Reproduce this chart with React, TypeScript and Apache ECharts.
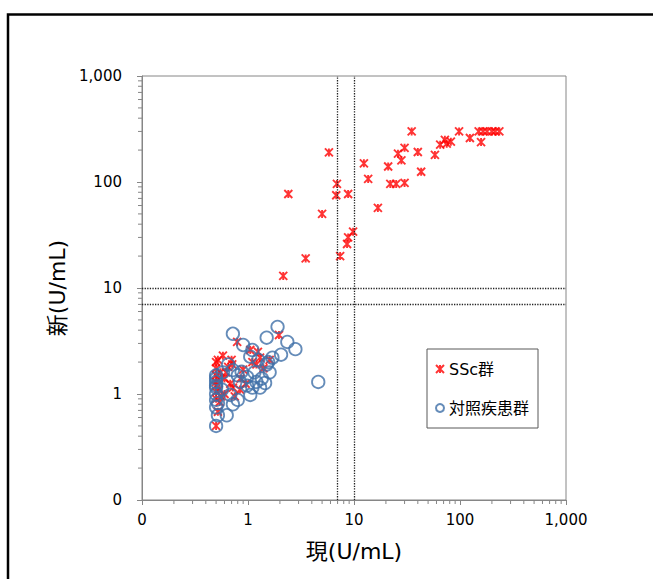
import React, { useEffect, useRef } from "react";
import * as echarts from "echarts";

const sscName = "SSc群";
const ctrlName = "対照疾患群";
const xTitle = "現(U/mL)";
const yTitle = "新(U/mL)";

const sscData: number[][] = [
  [5.8, 190], [12.4, 150], [13.6, 107], [6.9, 96], [2.4, 77], [6.8, 75], [8.8, 77],
  [16.8, 57], [5.0, 50], [9.8, 34], [8.8, 30], [8.6, 26], [7.4, 20], [3.5, 19], [2.15, 13],
  [35, 300], [98, 300], [72, 250], [82, 240], [65, 225], [75, 230], [124, 260], [158, 238],
  [150, 300], [165, 300], [180, 300], [200, 300], [215, 300], [235, 300],
  [30, 210], [26, 185], [28, 160], [40, 192], [58, 180], [21, 140], [43, 125],
  [22, 96], [25, 96], [30, 98],
  [1.96, 3.6], [0.79, 3.1], [0.58, 2.3], [1.24, 2.5], [1.05, 2.6], [0.71, 1.9], [0.5, 2.0],
  [0.52, 2.1], [1.4, 1.75], [1.6, 2.1], [0.72, 1.15], [0.52, 0.68], [0.5, 0.5], [0.54, 0.84],
  [0.5, 1.5], [0.5, 1.3], [0.5, 1.2], [0.5, 1.05], [0.55, 1.6], [0.6, 1.4], [0.65, 1.8],
  [0.85, 1.4], [0.9, 1.7], [1.1, 2.0], [1.2, 1.9], [0.75, 0.95], [0.84, 1.1], [0.6, 1.0],
  [0.5, 1.75], [0.52, 1.4], [0.62, 1.6], [0.68, 1.25], [0.56, 0.95], [0.5, 0.9], [0.53, 1.1],
  [0.7, 2.1], [0.95, 1.25], [1.3, 2.2],
];

const ctrlData: number[][] = [
  [0.72, 3.7], [1.9, 4.3], [1.5, 3.4], [2.35, 3.1], [2.8, 2.65], [2.05, 2.35], [0.9, 2.9],
  [1.1, 2.6], [1.05, 2.25], [1.25, 2.1], [1.55, 2.0], [1.7, 2.2], [1.5, 1.9], [1.6, 1.6],
  [1.45, 1.27], [1.3, 1.15], [1.1, 1.15], [0.98, 1.2], [1.05, 0.98], [0.84, 1.3], [0.8, 1.5],
  [0.72, 1.68], [0.87, 1.62], [0.98, 1.45], [0.8, 0.88], [0.72, 0.8], [0.63, 0.63],
  [0.52, 0.82], [0.52, 0.63], [0.5, 0.5], [0.5, 1.5], [0.5, 1.3], [0.5, 1.15], [0.5, 1.0],
  [0.5, 0.88], [0.5, 0.75], [0.65, 1.9], [0.58, 1.6], [4.6, 1.3], [0.57, 1.1], [0.68, 0.98],
  [1.35, 1.4], [1.15, 1.6], [1.2, 1.3], [0.5, 1.4], [0.5, 1.2],
];

const refLinesX = [7, 10];
const refLinesY = [7, 10];
const axisMin = 0.1;
const axisMax = 1000;
const minorTicks = [
  0.2, 0.3, 0.4, 0.5, 0.6, 0.7, 0.8, 0.9,
  2, 3, 4, 5, 6, 7, 8, 9,
  20, 30, 40, 50, 60, 70, 80, 90,
  200, 300, 400, 500, 600, 700, 800, 900,
];

const AXIS_GREY = "#868686";
const FONT = "DejaVu Sans, 'Noto Sans CJK JP', sans-serif";
const STAR = "path://M0,0L10,10M10,0L0,10M5,0L5,10";

const fmt = (v: number) => (v < 0.5 ? "0" : Math.round(v).toLocaleString("en-US"));

export default function App() {
  const ref = useRef<HTMLDivElement>(null);
  useEffect(() => {
    if (!ref.current) return;
    const chart = echarts.init(ref.current, undefined, { renderer: "svg" });
    const axisCommon = {
      type: "log",
      logBase: 10,
      min: axisMin,
      max: axisMax,
      splitLine: { show: false },
      axisLine: { show: true, lineStyle: { color: AXIS_GREY, width: 1 } },
      axisTick: { show: true, inside: false, length: 5, lineStyle: { color: AXIS_GREY } },
      axisLabel: { formatter: fmt, color: "#000", fontSize: 15, fontFamily: FONT },
      nameLocation: "middle",
      nameTextStyle: { color: "#000", fontSize: 22, fontFamily: FONT },
    };
    chart.setOption({
      animation: false,
      backgroundColor: "#fff",
      grid: {
        left: 142,
        top: 76,
        right: 87,
        bottom: 79,
        show: true,
        borderColor: AXIS_GREY,
        borderWidth: 1,
        backgroundColor: "transparent",
      },
      xAxis: {
        ...axisCommon,
        name: xTitle,
        nameGap: 40,
        axisLabel: { ...axisCommon.axisLabel, margin: 12 },
      },
      yAxis: {
        ...axisCommon,
        name: yTitle,
        nameGap: 70,
        axisLabel: { ...axisCommon.axisLabel, margin: 20 },
      },
      legend: {
        data: [sscName, ctrlName],
        orient: "vertical",
        left: 427,
        top: 349,
        padding: [12, 9, 12, 8],
        itemGap: 23,
        itemWidth: 8,
        itemHeight: 8,
        borderColor: "#595959",
        borderWidth: 1,
        backgroundColor: "#fff",
        textStyle: { color: "#000", fontSize: 16, fontFamily: FONT },
      },
      graphic: [
        {
          type: "rect",
          shape: { x: 8, y: 14.5, width: 720, height: 640 },
          style: { fill: "none", stroke: "#000", lineWidth: 2.5 },
          silent: true,
        },
      ],
      series: [
        {
          type: "custom",
          name: "minor",
          coordinateSystem: "cartesian2d",
          silent: true,
          clip: false,
          data: minorTicks.map((v) => [v, axisMin]),
          renderItem: (params: any, api: any) => {
            const v = api.value(0);
            const px = api.coord([v, axisMin]);
            const py = api.coord([axisMin, v]);
            const st = { stroke: AXIS_GREY, lineWidth: 1 };
            return {
              type: "group",
              children: [
                { type: "line", shape: { x1: px[0], y1: px[1], x2: px[0], y2: px[1] + 4 }, style: st },
                { type: "line", shape: { x1: py[0] - 4, y1: py[1], x2: py[0], y2: py[1] }, style: st },
              ],
            };
          },
          markLine: {
            silent: true,
            symbol: "none",
            label: { show: false },
            lineStyle: { type: "dotted", color: "#222", width: 1.3 },
            data: [
              ...refLinesX.map((v) => ({ xAxis: v })),
              ...refLinesY.map((v) => ({ yAxis: v })),
            ],
          },
          z: 1,
        },
        {
          type: "scatter",
          name: sscName,
          data: sscData,
          symbol: STAR,
          symbolSize: 8,
          itemStyle: { color: "#FF0000", borderColor: "#FF0000", borderWidth: 1.9 },
          z: 3,
        },
        {
          type: "scatter",
          name: ctrlName,
          data: ctrlData,
          symbol: "circle",
          symbolSize: 12.5,
          itemStyle: { color: "rgba(0,0,0,0)", borderColor: "#3E6FA8", borderWidth: 1.8 },
          z: 4,
        },
      ],
    });
    return () => chart.dispose();
  }, []);
  return (
    <div
      ref={ref}
      style={{ position: "absolute", left: 0, top: 0, width: 653, height: 579 }}
    />
  );
}
